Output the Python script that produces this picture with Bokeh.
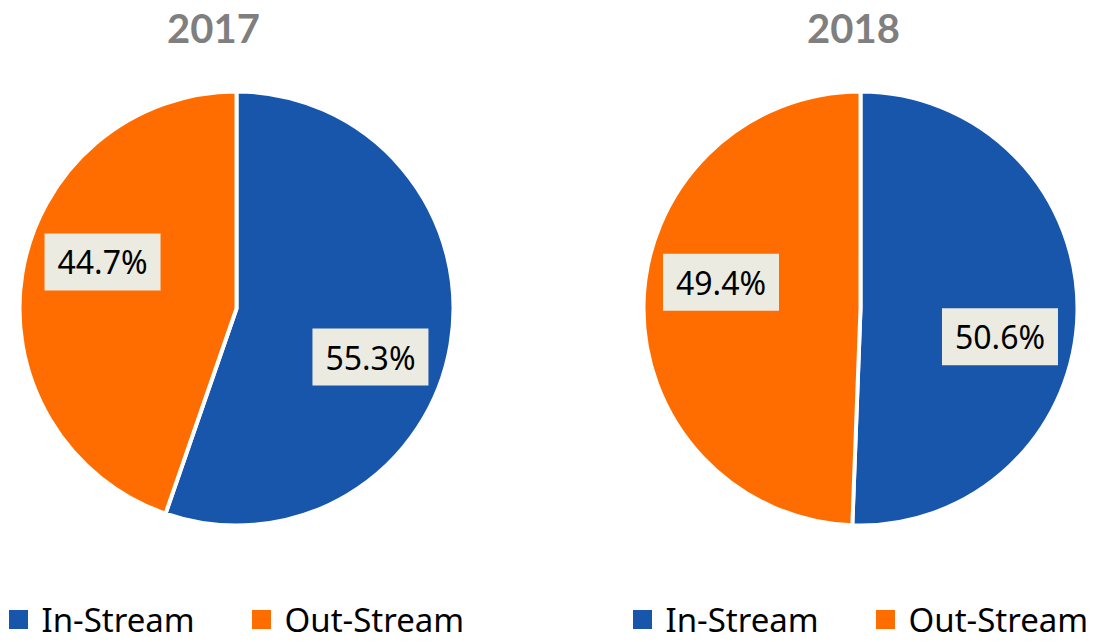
import math
from bokeh.plotting import figure
from bokeh.models import Range1d, ColumnDataSource
from bokeh.core.properties import value
from bokeh.embed import file_html
from bokeh.resources import INLINE

# ---- data ----
years = ["2017", "2018"]
categories = ["In-Stream", "Out-Stream"]
share_2017 = [55.3, 44.7]
share_2018 = [50.6, 49.4]
colors = ["#1756AA", "#FF6D01"]

# ---- layout (screen pixels) ----
W, H = 1107, 642
pie_centers = [(236, 308), (860, 308)]
title_x = [213, 853]
R = 217
label_bg = "#ECEBE1"

p = figure(width=W, height=H, output_backend="svg", toolbar_location=None,
           x_range=Range1d(0, W), y_range=Range1d(-H, 0),
           min_border=0, outline_line_color=None, background_fill_color="white")
p.axis.visible = False
p.grid.visible = False

for yi, (year, shares) in enumerate(zip(years, [share_2017, share_2018])):
    cx, cy = pie_centers[yi]
    total = sum(shares)
    cum = 0.0
    starts, ends, mids = [], [], []
    for s in shares:
        a0 = math.pi / 2 - 2 * math.pi * cum / total
        cum += s
        a1 = math.pi / 2 - 2 * math.pi * cum / total
        starts.append(a0)
        ends.append(a1)
        mids.append((a0 + a1) / 2)
    src = ColumnDataSource(dict(x=[cx] * len(shares), y=[-cy] * len(shares),
                                start=starts, end=ends, color=colors,
                                cat=categories))
    p.wedge(x="x", y="y", radius=R, start_angle="start", end_angle="end",
            direction="clock", fill_color="color", line_color="white",
            line_width=4, source=src)

    # data labels
    rot = math.radians(10)
    d = 0.655 * R
    lx = [cx + d * math.cos(m - rot) for m in mids]
    ly = [-cy + d * math.sin(m - rot) - 1 for m in mids]
    labels = [f"{s:.1f}%" for s in shares]
    p.rect(x=lx, y=ly, width=116, height=57, fill_color=label_bg, line_color=None)
    p.text(x=lx, y=ly, text=labels, text_align="center", text_baseline="middle",
           text_font=value("Noto Sans"), text_font_size="32px", text_color="black")

    # title
    p.text(x=[title_x[yi]], y=[-28], text=[year], text_align="center",
           text_baseline="middle", text_font=value("Lato"),
           text_font_style="bold", text_font_size="40px", text_color="#7F7F7F")

    # legend
    offsets = [-218, 25]
    sq_x = [cx + o for o in offsets]
    p.scatter(x=sq_x, y=[-619] * 2, marker="square", size=19,
              fill_color=colors, line_color=None)
    p.text(x=[sx + 23 for sx in sq_x], y=[-619] * 2, text=categories,
           text_align="left", text_baseline="middle",
           text_font=value("Noto Sans"), text_font_size="33px", text_color="black")

open("out.html", "w").write(file_html(p, INLINE))
